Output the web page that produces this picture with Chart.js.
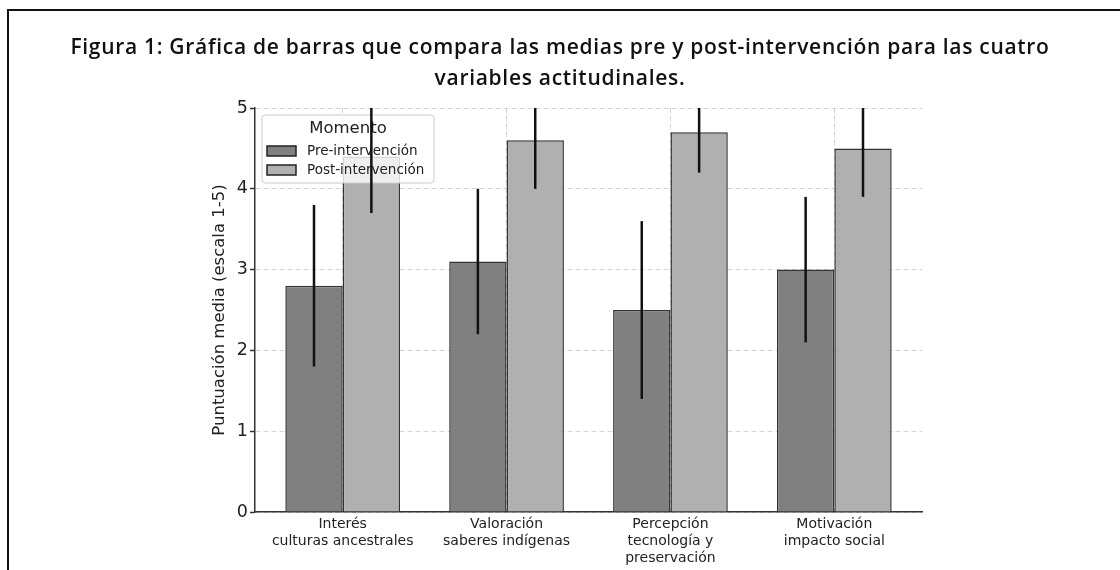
<!DOCTYPE html>
<html>
<head>
<meta charset="utf-8">
<script src="https://cdn.jsdelivr.net/npm/chart.js@4"></script>
<style>
  html, body { margin: 0; padding: 0; background: #fff; }
  body { width: 1120px; height: 570px; overflow: hidden; position: relative; }
  #frame { position: absolute; left: 7px; top: 9px; width: 1300px; height: 700px; border: 2px solid #111; }
  #title {
    position: absolute; left: 0; top: 31px; width: 1120px; text-align: center;
    font-family: "Open Sans", sans-serif; font-weight: 600; font-size: 21px; letter-spacing: 0.7px;
    line-height: 31px; color: #111;
  }
  #wrap { position: absolute; left: 0; top: 0; width: 1120px; height: 570px; }
</style>
</head>
<body>
<div id="frame"></div>
<div id="wrap"><canvas id="chart" width="1120" height="570"></canvas></div>
<div id="title">Figura 1: Gráfica de barras que compara las medias pre y post-intervención para las cuatro<br>variables actitudinales.</div>
<script>
// categories (multi-line labels) and values
const categories = [
    ['Interés', 'culturas ancestrales'],
    ['Valoración', 'saberes indígenas'],
    ['Percepción', 'tecnología y', 'preservación'],
    ['Motivación', 'impacto social']
];
const preValues = [2.8, 3.1, 2.5, 3.0];
const postValues = [4.4, 4.6, 4.7, 4.5];
const preErrors = [1.0, 0.9, 1.1, 0.9];
const postErrors = [0.7, 0.6, 0.5, 0.6];
const yTicks = [0, 1, 2, 3, 4, 5];

const seriesNames = ['Pre-intervención', 'Post-intervención'];
const seriesColors = ['#808080', '#b0b0b0'];
const errors = [preErrors, postErrors];

// legend box drawn inside the plot, then error bars on top
const overlayPlugin = {
    id: 'overlay',
    afterDatasetsDraw(chart) {
        const ctx = chart.ctx;
        const area = chart.chartArea;
        const yScale = chart.scales.y;

        // legend
        const lx = area.left + 7, ly = area.top + 7, lw = 172, lh = 68;
        ctx.save();
        ctx.beginPath();
        ctx.roundRect(lx, ly, lw, lh, 3);
        ctx.fillStyle = 'rgba(255,255,255,0.8)';
        ctx.fill();
        ctx.strokeStyle = '#cccccc';
        ctx.lineWidth = 1;
        ctx.stroke();
        ctx.fillStyle = '#222';
        ctx.font = '16.5px "DejaVu Sans"';
        ctx.textAlign = 'center';
        ctx.textBaseline = 'middle';
        ctx.fillText('Momento', lx + 86, ly + 14);
        ctx.font = '13.5px "DejaVu Sans"';
        ctx.textAlign = 'left';
        seriesNames.forEach((name, i) => {
            const cy = ly + 36 + i * 19;
            ctx.fillStyle = seriesColors[i];
            ctx.fillRect(lx + 5, cy - 5, 29, 10);
            ctx.strokeStyle = '#222';
            ctx.lineWidth = 1.5;
            ctx.strokeRect(lx + 5, cy - 5, 29, 10);
            ctx.fillStyle = '#222';
            ctx.fillText(name, lx + 45, cy);
        });
        ctx.restore();

        // error bars
        ctx.save();
        ctx.beginPath();
        ctx.rect(area.left, area.top, area.right - area.left, area.bottom - area.top);
        ctx.clip();
        ctx.strokeStyle = '#111';
        ctx.lineWidth = 2.5;
        chart.data.datasets.forEach((ds, di) => {
            const meta = chart.getDatasetMeta(di);
            meta.data.forEach((bar, i) => {
                const v = ds.data[i].y;
                const e = errors[di][i];
                ctx.beginPath();
                ctx.moveTo(bar.x, yScale.getPixelForValue(v - e));
                ctx.lineTo(bar.x, yScale.getPixelForValue(v + e));
                ctx.stroke();
            });
        });
        ctx.restore();
    }
};

const ctx = document.getElementById('chart').getContext('2d');
new Chart(ctx, {
    type: 'bar',
    data: {
        datasets: [
            {
                label: seriesNames[0],
                data: preValues.map((v, i) => ({ x: i, y: v })),
                backgroundColor: seriesColors[0],
                borderColor: '#333',
                borderWidth: 1.5
            },
            {
                label: seriesNames[1],
                data: postValues.map((v, i) => ({ x: i, y: v })),
                backgroundColor: seriesColors[1],
                borderColor: '#333',
                borderWidth: 1.5
            }
        ]
    },
    options: {
        responsive: false,
        animation: false,
        categoryPercentage: 0.7,
        barPercentage: 1.0,
        layout: { padding: { left: 195, right: 198, top: 108, bottom: 0 } },
        plugins: {
            legend: { display: false },
            tooltip: { enabled: false }
        },
        scales: {
            x: {
                type: 'linear',
                min: -0.535,
                max: 3.535,
                offset: false,
                afterFit: scale => { scale.height = 58; },
                grid: { offset: false, color: '#d4d4d4', lineWidth: 1, drawTicks: false },
                border: { color: '#333', width: 1.5, dash: [5, 3] },
                ticks: {
                    stepSize: 1,
                    includeBounds: false,
                    autoSkip: false,
                    maxRotation: 0,
                    padding: 4,
                    color: '#222',
                    font: { family: 'DejaVu Sans', size: 14, lineHeight: 1.2 },
                    callback: v => (Number.isInteger(v) && v >= 0 && v < categories.length) ? categories[v] : ''
                }
            },
            y: {
                min: 0,
                max: 5,
                afterFit: scale => { scale.width = 60; },
                afterBuildTicks: scale => { scale.ticks = yTicks.map(v => ({ value: v })); },
                grid: { color: '#d4d4d4', lineWidth: 1, tickColor: '#333', tickLength: 5, tickWidth: 1.5 },
                border: { color: '#333', width: 1.5, dash: [5, 3] },
                ticks: {
                    padding: 2,
                    color: '#222',
                    font: { family: 'DejaVu Sans', size: 17.5 }
                },
                title: {
                    display: true,
                    text: 'Puntuación media (escala 1-5)',
                    color: '#222',
                    padding: { top: 15, bottom: 0 },
                    font: { family: 'DejaVu Sans', size: 16.5 }
                }
            }
        }
    },
    plugins: [overlayPlugin]
});
</script>
</body>
</html>
